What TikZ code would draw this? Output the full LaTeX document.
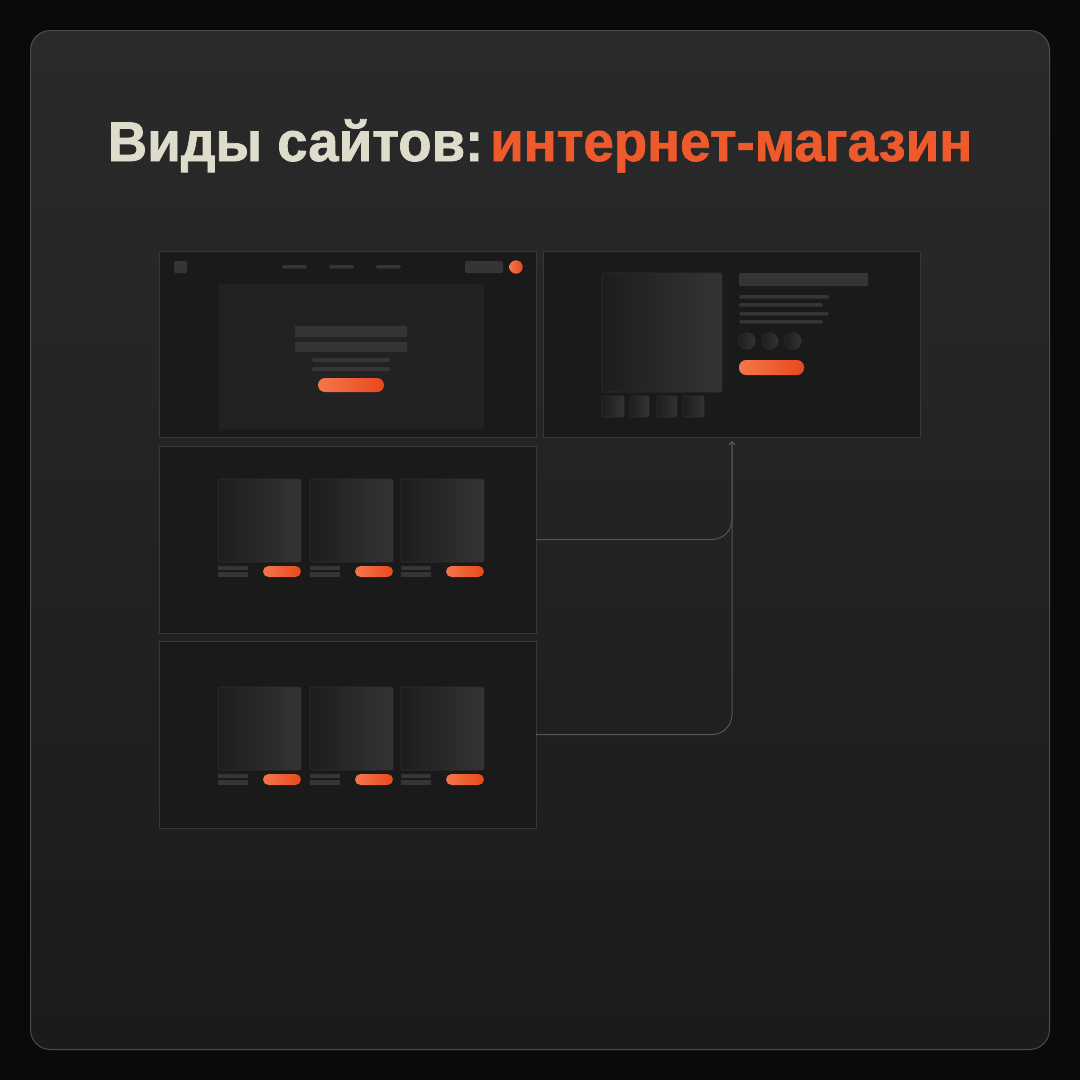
\documentclass[tikz,border=0pt]{standalone}
\usepackage{fontspec}
\newfontfamily\titlefont[BoldFeatures={FakeBold=1.3}]{Liberation Sans}
\usetikzlibrary{arrows.meta}
\definecolor{pagebg}{HTML}{0A0A0A}
\definecolor{cardtop}{HTML}{2A2A2A}
\definecolor{cardbot}{HTML}{1B1B1B}
\definecolor{cardline}{HTML}{4A4A4A}
\definecolor{framefill}{HTML}{1A1A1A}
\definecolor{frameline}{HTML}{383838}
\definecolor{herofill}{HTML}{222222}
\definecolor{barfill}{HTML}{353535}
\definecolor{imgl}{HTML}{1D1D1D}
\definecolor{imgr}{HTML}{343434}
\definecolor{imgline}{HTML}{303030}
\definecolor{orl}{HTML}{F3774C}
\definecolor{orr}{HTML}{E8491C}
\definecolor{cream}{HTML}{DEDCCA}
\definecolor{orangetxt}{HTML}{EE5A2B}
\definecolor{conn}{HTML}{555555}
\tikzset{
  frame/.style={draw=frameline, fill=framefill, line width=1pt, inner sep=0pt, outer sep=0pt},
  bar/.style={fill=barfill, rounded corners=1.5pt},
  img/.style={left color=imgl, right color=imgr, draw=imgline, line width=0.6pt, rounded corners=2pt},
  obtn/.style={left color=orl, right color=orr, rounded corners=5.5pt},
  connector/.style={draw=conn, line width=1pt, rounded corners=20pt, -{Straight Barb[length=3pt,width=6pt]}},
}
\begin{document}
\begin{tikzpicture}[x=1pt,y=-1pt]
\useasboundingbox (0,0) rectangle (1080,1080);
\fill[pagebg] (0,0) rectangle (1080,1080);
\shade[top color=cardtop, bottom color=cardbot, rounded corners=20pt] (30,30) rectangle (1050,1050);
\draw[cardline, line width=1pt, rounded corners=20pt] (30.5,30.5) rectangle (1049.5,1049.5);

% title
\node[anchor=base, inner sep=0pt] (title) at (540,161) {\scalebox{0.975}[1]{\titlefont\bfseries\fontsize{56}{60}\selectfont\textcolor{cream}{Виды сайтов:}\hspace{7pt}\textcolor{orangetxt}{интернет-магазин}}};

% frames
\node[frame, minimum width=377pt, minimum height=186pt] (fa) at (347.5,344) {};
\node[frame, minimum width=377pt, minimum height=186pt] (fb) at (731.5,344) {};
\node[frame, minimum width=377pt, minimum height=187pt] (fc) at (347.5,539.5) {};
\node[frame, minimum width=377pt, minimum height=187pt] (fd) at (347.5,734.5) {};

% frame A: landing
\fill[barfill, rounded corners=1.5pt] (174,261) rectangle (187,273);
\fill[bar] (282,265) rectangle (307,268.5);
\fill[bar] (329,265) rectangle (354,268.5);
\fill[bar] (376,265) rectangle (401,268.5);
\fill[barfill, rounded corners=2pt] (465,261) rectangle (503,273);
\shade[left color=orl, right color=orr] (516,267) circle (6.7);
\fill[herofill] (219,284) rectangle (484,429);
\fill[barfill] (295,326) rectangle (407,337);
\fill[barfill] (295,342) rectangle (407,352);
\fill[bar] (312,358) rectangle (390,362);
\fill[bar] (312,367) rectangle (390,371);
\shade[obtn, rounded corners=7pt] (318,378) rectangle (384,392);

% frame B: product page
\shade[img] (602,273) rectangle (722,392);
\shade[img, rounded corners=1pt] (602,396) rectangle (624,417);
\shade[img, rounded corners=1pt] (630,396) rectangle (649,417);
\shade[img, rounded corners=1pt] (657,396) rectangle (677,417);
\shade[img, rounded corners=1pt] (683,396) rectangle (704,417);
\fill[barfill, rounded corners=1pt] (739,273) rectangle (868,286);
\fill[bar] (739,295) rectangle (829,298.5);
\fill[bar] (739,303) rectangle (823,306.5);
\fill[bar] (739,312) rectangle (829,315.5);
\fill[bar] (739,320) rectangle (823,323.5);
\shade[left color=imgl, right color=imgr, draw=imgline, line width=0.6pt] (747,341) circle (8.3);
\shade[left color=imgl, right color=imgr, draw=imgline, line width=0.6pt] (770,341) circle (8.3);
\shade[left color=imgl, right color=imgr, draw=imgline, line width=0.6pt] (793,341) circle (8.3);
\shade[obtn, rounded corners=7pt] (739,360) rectangle (804,375);

% frame C: catalogue row
\foreach \xa/\xb in {218/301, 310/393, 401/484} {
  \shade[img] (\xa,479) rectangle (\xb,562);
  \fill[barfill] (\xa,566) rectangle ({\xa+30},570);
  \fill[barfill] (\xa,572) rectangle ({\xa+30},576.5);
  \shade[obtn] ({\xb-38},566) rectangle (\xb,577);
}
% frame D: catalogue row
\foreach \xa/\xb in {218/301, 310/393, 401/484} {
  \shade[img] (\xa,687) rectangle (\xb,770);
  \fill[barfill] (\xa,774) rectangle ({\xa+30},778);
  \fill[barfill] (\xa,780) rectangle ({\xa+30},784.5);
  \shade[obtn] ({\xb-38},774) rectangle (\xb,785);
}

% connectors
\coordinate (tip) at (732,441);
\draw[connector] (fc.east) -| (tip);
\draw[connector] (fd.east) -| (tip);
\end{tikzpicture}
\end{document}
